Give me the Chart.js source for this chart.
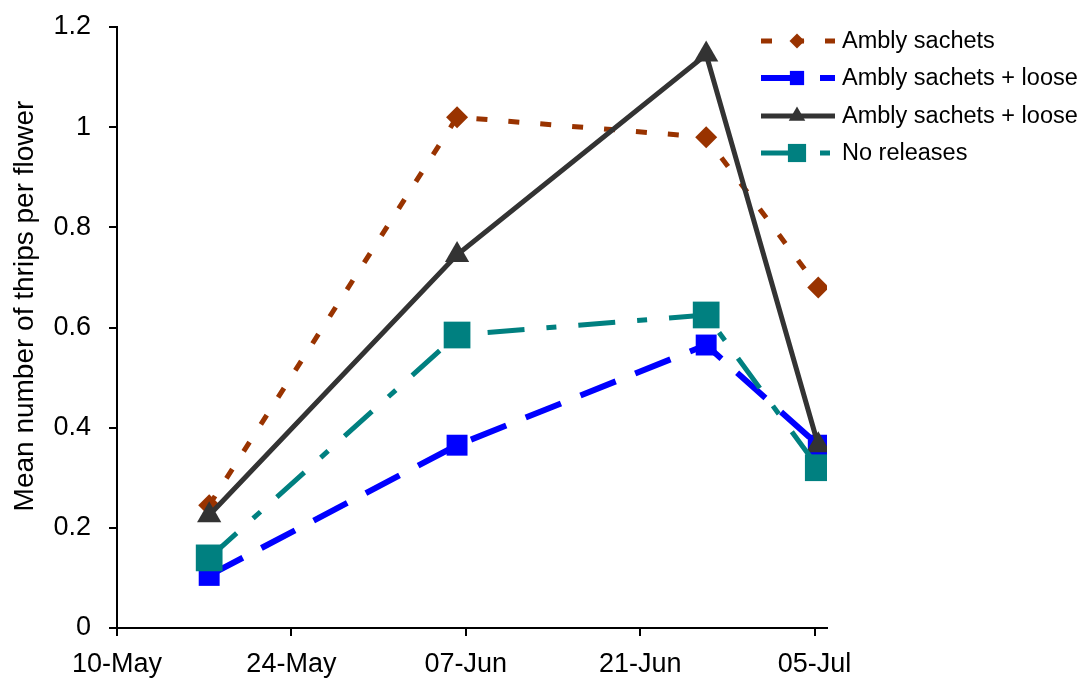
<!DOCTYPE html>
<html>
<head>
<meta charset="utf-8">
<script src="https://cdn.jsdelivr.net/npm/chart.js@4.4.0/dist/chart.umd.min.js"></script>
<style>
  html, body { margin: 0; padding: 0; background: #ffffff; }
  #wrap { width: 1082px; height: 682px; }
</style>
</head>
<body>
<div id="wrap"><canvas id="c" width="1082" height="682"></canvas></div>
<script>
// Sampling dates, as days after 10 May
const sampleDays = [7.4, 27.3, 47.3, 56.3];

// Mean number of thrips per flower for each treatment
const amblySachets = [0.245, 1.02, 0.98, 0.68];
const amblyLooseA = [0.105, 0.365, 0.565, 0.365];
const amblyLooseB = [0.225, 0.745, 1.145, 0.365];
const noReleases = [0.14, 0.585, 0.625, 0.32];

const seriesNames = ['Ambly sachets', 'Ambly sachets + loose', 'Ambly sachets + loose', 'No releases'];
const yAxisTitle = 'Mean number of thrips per flower';

// Axis ticks
const xTickDays = [0, 14, 28, 42, 56];
const xTickLabels = ['10-May', '24-May', '07-Jun', '21-Jun', '05-Jul'];
const yTickValues = [0, 0.2, 0.4, 0.6, 0.8, 1, 1.2];
const yTickLabels = ['0', '0.2', '0.4', '0.6', '0.8', '1', '1.2'];

const FONT = "'Liberation Sans', Arial, Helvetica, sans-serif";

function pts(values) {
  return values.map((v, i) => ({ x: sampleDays[i], y: v }));
}

const datasets = [
  {
    label: seriesNames[0], data: pts(amblySachets),
    borderColor: '#993300', backgroundColor: '#993300',
    borderWidth: 5, borderDash: [11, 21],
    pointStyle: 'rectRot', pointRadius: 11, pointBorderWidth: 0,
    order: 4
  },
  {
    label: seriesNames[1], data: pts(amblyLooseA),
    borderColor: '#0000ff', backgroundColor: '#0000ff',
    borderWidth: 6, borderDash: [38, 21],
    pointStyle: 'rect', pointRadius: 14.8, pointBorderWidth: 0,
    order: 3
  },
  {
    label: seriesNames[2], data: pts(amblyLooseB),
    borderColor: '#333333', backgroundColor: '#333333',
    borderWidth: 5, borderDash: [],
    pointStyle: 'triangle', pointRadius: 14, pointBorderWidth: 0,
    order: 2
  },
  {
    label: seriesNames[3], data: pts(noReleases),
    borderColor: '#008080', backgroundColor: '#008080',
    borderWidth: 5, borderDash: [37, 22, 10, 22],
    pointStyle: 'rect', pointRadius: 18.9, pointBorderWidth: 0,
    order: 1
  }
];

// Legend drawn over the upper right of the plot (line sample, marker, label)
// and the rotated value-axis title
const decorations = {
  id: 'decorations',
  afterDraw(chart) {
    const ctx = chart.ctx;
    const x0 = 761, x1 = 835, mx = 797, tx = 842;
    const rows = [41, 78, 116, 153];
    chart.data.datasets.forEach((ds, i) => {
      const y = rows[i];
      ctx.save();
      ctx.strokeStyle = ds.borderColor;
      ctx.lineWidth = ds.borderWidth;
      ctx.setLineDash(ds.borderDash || []);
      ctx.lineDashOffset = 0;
      ctx.beginPath();
      ctx.moveTo(x0, y);
      ctx.lineTo(x1, y);
      ctx.stroke();
      ctx.setLineDash([]);
      ctx.fillStyle = ds.backgroundColor;
      Chart.helpers.drawPoint(ctx, {
        pointStyle: ds.pointStyle,
        radius: ds.pointRadius * 0.68,
        rotation: 0,
        borderWidth: 0
      }, mx, y);
      ctx.fillStyle = '#000000';
      ctx.font = '23.5px ' + FONT;
      ctx.textAlign = 'left';
      ctx.textBaseline = 'middle';
      ctx.fillText(ds.label, tx, y + 1);
      ctx.restore();
    });

    ctx.save();
    ctx.translate(25, 306);
    ctx.rotate(-Math.PI / 2);
    ctx.fillStyle = '#000000';
    ctx.font = '28px ' + FONT;
    ctx.textAlign = 'center';
    ctx.textBaseline = 'middle';
    ctx.fillText(yAxisTitle, 0, 0);
    ctx.restore();
  }
};

new Chart(document.getElementById('c'), {
  type: 'line',
  data: { datasets },
  options: {
    responsive: false,
    animation: false,
    devicePixelRatio: 1,
    layout: { padding: { left: 0, top: 27, right: 255, bottom: 0 } },
    plugins: {
      legend: { display: false },
      tooltip: { enabled: false }
    },
    elements: { line: { tension: 0, fill: false } },
    scales: {
      x: {
        type: 'linear',
        min: 0, max: 57,
        afterBuildTicks: (scale) => { scale.ticks = xTickDays.map(v => ({ value: v })); },
        afterFit: (scale) => { scale.height = 54; scale.paddingLeft = 0; scale.paddingRight = 0; },
        ticks: {
          autoSkip: false, maxRotation: 0, padding: 12,
          color: '#000000',
          font: { family: FONT, size: 27 },
          callback: (v) => xTickLabels[xTickDays.indexOf(v)]
        },
        grid: { drawOnChartArea: false, drawTicks: true, tickLength: 8, color: '#000000', lineWidth: 2 },
        border: { display: true, color: '#000000', width: 2 }
      },
      y: {
        type: 'linear',
        min: 0, max: 1.2,
        afterBuildTicks: (scale) => { scale.ticks = yTickValues.map(v => ({ value: v })); },
        afterFit: (scale) => { scale.width = 117; scale.paddingTop = 0; scale.paddingBottom = 0; },
        ticks: {
          padding: 18,
          color: '#000000',
          font: { family: FONT, size: 27 },
          callback: (v) => yTickLabels[yTickValues.indexOf(v)]
        },
        grid: { drawOnChartArea: false, drawTicks: true, tickLength: 8, color: '#000000', lineWidth: 2 },
        border: { display: true, color: '#000000', width: 2 }
      }
    }
  },
  plugins: [decorations]
});
</script>
</body>
</html>
